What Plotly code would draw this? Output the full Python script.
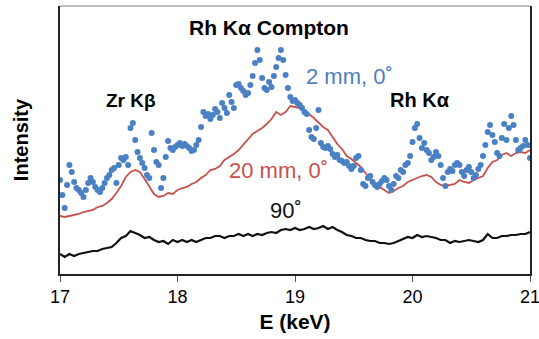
import plotly.graph_objects as go

# Energy grids (keV)
E_dots = [round(17.0 + 0.02 * i, 2) for i in range(201)]
E_lines = [round(17.0 + 0.04 * i, 2) for i in range(101)]

# 2 mm, 0 deg (blue dots), arbitrary intensity units
I_2mm = [94, 79, 66, 89, 109, 102, 92, 86, 84, 81,
         77, 84, 91, 96, 92, 87, 84, 82, 86, 91,
         96, 99, 104, 106, 91, 109, 116, 114, 117, 109,
         146, 151, 134, 122, 116, 111, 106, 99, 96, 141,
         124, 112, 109, 86, 96, 117, 133, 126, 124, 127,
         129, 131, 128, 130, 128, 126, 123, 124, 129, 134,
         147, 162, 158, 160, 155, 159, 165, 162, 156, 171,
         166, 161, 179, 172, 166, 189, 190, 186, 183, 179,
         181, 189, 198, 211, 224, 214, 196, 186, 184, 192,
         187, 198, 207, 216, 224, 214, 199, 186, 177, 173,
         174, 171, 169, 166, 162, 160, 144, 137, 135, 146,
         164, 131, 127, 126, 128, 125, 120, 117, 119, 114,
         113, 111, 112, 108, 105, 108, 116, 118, 104, 90,
         88, 96, 98, 92, 89, 87, 90, 93, 96, 94,
         88, 84, 90, 98, 96, 104, 102, 109, 111, 118,
         132, 146, 150, 136, 126, 131, 124, 121, 114, 117,
         122, 118, 109, 96, 88, 102, 105, 103, 109, 111,
         109, 102, 98, 104, 107, 102, 96, 99, 105, 109,
         118, 129, 142, 149, 139, 132, 121, 118, 136, 150,
         134, 146, 158, 149, 134, 124, 126, 128, 134, 129,
         116]

# 20 mm, 0 deg (red line)
I_20mm = [58, 57, 58, 59, 60, 62, 63, 64, 67, 68,
          71, 75, 81, 88, 97, 102, 104, 102, 95, 87,
          80, 77, 78, 81, 80, 84, 86, 87, 90, 92,
          96, 99, 104, 105, 108, 114, 117, 120, 124, 129,
          135, 140, 143, 146, 150, 155, 162, 159, 162, 168,
          167, 166, 163, 160, 156, 151, 147, 144, 137, 130,
          125, 118, 115, 111, 107, 101, 95, 91, 87, 84,
          81, 83, 86, 88, 92, 94, 96, 98, 99, 97,
          92, 89, 88, 89, 90, 94, 92, 91, 94, 96,
          98, 106, 112, 114, 119, 121, 118, 121, 122, 121,
          124]

# 90 deg (black line)
I_90 = [20, 17, 20, 18, 20, 21, 22, 23, 23, 25,
        26, 27, 31, 36, 38, 43, 41, 39, 36, 37,
        34, 32, 33, 30, 34, 32, 34, 32, 34, 32,
        34, 36, 36, 38, 38, 36, 38, 38, 40, 38,
        40, 38, 40, 39, 41, 42, 41, 44, 45, 44,
        46, 44, 45, 47, 45, 46, 48, 45, 47, 44,
        42, 39, 38, 36, 36, 34, 33, 33, 31, 31,
        30, 31, 33, 35, 37, 36, 39, 37, 38, 37,
        36, 34, 34, 31, 33, 32, 33, 34, 33, 32,
        34, 40, 36, 36, 38, 38, 39, 39, 40, 40,
        42]

x_ticks = [17, 18, 19, 20, 21]

BLUE = "#4A80C4"
RED = "#C8504D"
FONT = "Liberation Sans, Arial"

fig = go.Figure()
fig.add_trace(go.Scatter(x=E_lines, y=I_90, mode="lines",
                         line=dict(color="#111111", width=2.2), showlegend=False))
fig.add_trace(go.Scatter(x=E_lines, y=I_20mm, mode="lines",
                         line=dict(color=RED, width=1.8), showlegend=False))
fig.add_trace(go.Scatter(x=E_dots, y=I_2mm, mode="markers",
                         marker=dict(color=BLUE, size=6), showlegend=False))


def label(x, y, text, size, color="black"):
    fig.add_annotation(x=x, y=y, text=text, showarrow=False, xref="x", yref="y",
                       font=dict(family=FONT, size=size, color=color))


label(18.78, 247, "<b>Rh Kα Compton</b>", 21)
label(17.60, 174, "<b>Zr Kβ</b>", 19)
label(20.06, 174, "<b>Rh Kα</b>", 20)
label(19.46, 198, "2 mm, 0˚", 22, BLUE)
label(18.86, 104, "20 mm, 0˚", 22, RED)
label(18.92, 64, "90˚", 22, "#111111")

# lighter top border of the frame
fig.add_shape(type="line", xref="paper", yref="paper", x0=0, x1=1, y0=1, y1=1,
              line=dict(color="#aaaaaa", width=1.5))

fig.update_layout(
    width=539, height=339,
    margin=dict(l=60, r=9, t=6, b=65, autoexpand=False),
    plot_bgcolor="white", paper_bgcolor="white",
    font=dict(family=FONT, size=14, color="black"),
)
fig.update_xaxes(range=[17, 21], tickvals=x_ticks, ticktext=[str(t) for t in x_ticks],
                 ticks="outside", ticklen=6, tickcolor="#555", tickwidth=1,
                 showline=True, linecolor="#222", linewidth=1.5, mirror=False,
                 showgrid=False, zeroline=False, automargin=False,
                 ticklabeloverflow="allow",
                 tickfont=dict(size=18),
                 title=dict(text="<b>E (keV)</b>", font=dict(size=21), standoff=8))
fig.update_yaxes(range=[0, 268], showticklabels=False, ticks="",
                 showline=True, linecolor="#222", linewidth=1.5, mirror=True,
                 showgrid=False, zeroline=False, automargin=False,
                 title=dict(text="<b>Intensity</b>", font=dict(size=20), standoff=24))

fig.write_html("out.html", config={"displayModeBar": False},
               post_script="document.body.style.margin='0';")
